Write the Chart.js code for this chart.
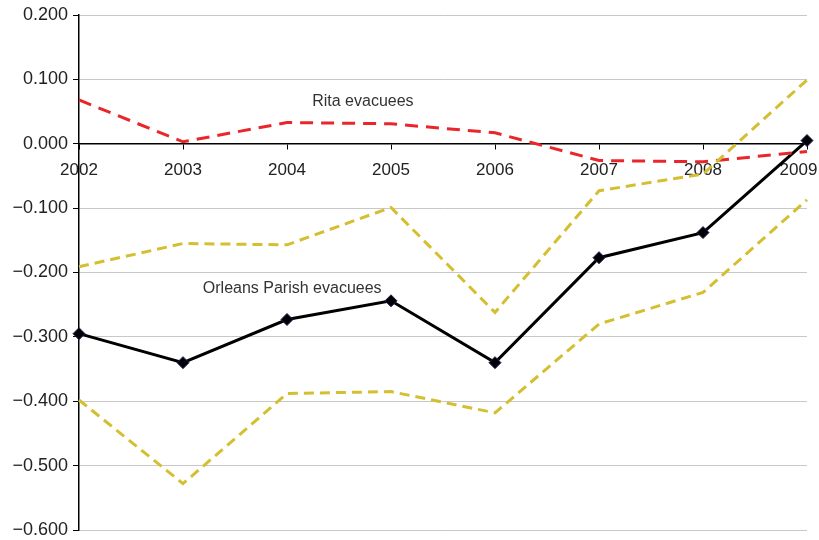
<!DOCTYPE html>
<html>
<head>
<meta charset="utf-8">
<script src="https://cdn.jsdelivr.net/npm/chart.js@4.4.1/dist/chart.umd.min.js"></script>
<style>
  body { margin: 0; background: #fff; }
  #wrap { width: 819px; height: 540px; }
</style>
</head>
<body>
<div id="wrap"><canvas id="c" width="819" height="540"></canvas></div>
<script>
const years = ['2002', '2003', '2004', '2005', '2006', '2007', '2008', '2009'];
const orleans = [-0.295, -0.340, -0.273, -0.244, -0.340, -0.177, -0.138, 0.005];
const orleansUpper = [-0.191, -0.155, -0.157, -0.099, -0.262, -0.073, -0.047, 0.099];
const orleansLower = [-0.398, -0.528, -0.388, -0.385, -0.418, -0.280, -0.231, -0.087];
const rita = [0.068, 0.003, 0.033, 0.031, 0.017, -0.026, -0.028, -0.012];

// text labels placed in data coordinates (category index, value)
const seriesLabels = [
  { text: 'Rita evacuees', x: 2.73, y: 0.065 },
  { text: 'Orleans Parish evacuees', x: 2.05, y: -0.225 }
];

const yellow = '#d4bf30';
const red = '#e8262b';

const textLabels = {
  id: 'textLabels',
  afterDatasetsDraw(chart) {
    const { ctx, scales } = chart;
    ctx.save();
    ctx.font = '16px "Liberation Sans", Arial, sans-serif';
    ctx.fillStyle = '#333';
    ctx.textAlign = 'center';
    ctx.textBaseline = 'middle';
    seriesLabels.forEach(l => {
      ctx.fillText(l.text, scales.x.getPixelForValue(l.x), scales.y.getPixelForValue(l.y));
    });
    ctx.restore();
  }
};

const line = (data, color, dash) => ({
  data,
  borderColor: color,
  borderWidth: 3,
  borderDash: dash,
  pointRadius: 0,
  tension: 0,
  fill: false
});

new Chart(document.getElementById('c'), {
  type: 'line',
  data: {
    labels: years,
    datasets: [
      line(orleansUpper, yellow, [10, 6]),
      line(orleansLower, yellow, [10, 6]),
      line(rita, red, [13, 8]),
      {
        data: orleans,
        borderColor: '#000',
        borderWidth: 3,
        tension: 0,
        pointStyle: 'rectRot',
        pointRadius: 6,
        pointBackgroundColor: '#000',
        pointBorderColor: '#1c1c5c',
        pointBorderWidth: 1
      }
    ]
  },
  options: {
    responsive: false,
    animation: false,
    layout: { padding: { left: 0, right: 12, top: 15, bottom: 10 } },
    plugins: { legend: { display: false }, tooltip: { enabled: false } },
    scales: {
      x: {
        position: { y: 0 },
        offset: false,
        grid: { display: true, drawOnChartArea: false, tickLength: 5, tickColor: '#000', tickWidth: 1 },
        border: { display: true, color: '#000', width: 1.5 },
        ticks: {
          color: '#222',
          padding: 11,
          maxRotation: 0,
          font: { family: '"Liberation Sans", Arial, sans-serif', size: 17 },
          // last label is nudged left so it stays inside the canvas
          callback: (v, i) => i === years.length - 1 ? years[i] + '\u2003' : years[i]
        },
        afterFit(scale) {
          scale.height = 0;
          scale.paddingLeft = 0;
          scale.paddingRight = 0;
        }
      },
      y: {
        min: -0.6,
        max: 0.2,
        grid: { color: '#c8c8c8', lineWidth: 1, tickLength: 6, tickColor: '#000' },
        border: { display: true, color: '#000', width: 1.5 },
        ticks: {
          stepSize: 0.1,
          padding: 5,
          color: '#222',
          font: { family: '"Liberation Sans", Arial, sans-serif', size: 18 },
          callback: v => {
            const r = Math.round(v * 1000) / 1000;
            return r < 0 ? '\u2212' + Math.abs(r).toFixed(3) : Math.abs(r).toFixed(3);
          }
        },
        afterFit(scale) {
          scale.width = 79;
          scale.paddingTop = 0;
          scale.paddingBottom = 0;
        }
      }
    }
  },
  plugins: [textLabels]
});
</script>
</body>
</html>
